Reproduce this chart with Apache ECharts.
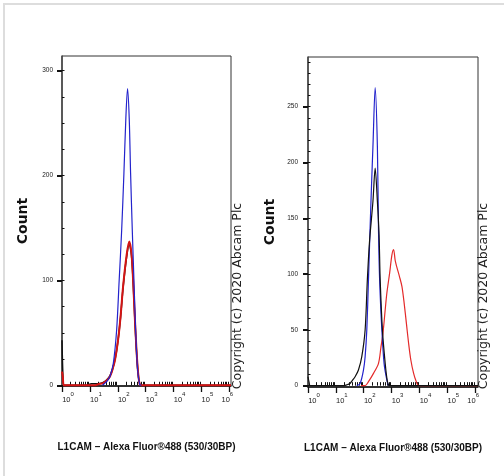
<!DOCTYPE html>
<html>
<head>
<meta charset="utf-8">
<script src="https://cdn.jsdelivr.net/npm/echarts@6/dist/echarts.min.js"></script>
<style>html,body{margin:0;padding:0;background:#fff}#c{width:504px;height:476px}</style>
</head>
<body>
<div id="c"></div>
<script>
// x values are log10 of fluorescence intensity (decades), y values are cell counts
var decadeTicks = [0, 1, 2, 3, 4, 5, 6];
var minorFactors = [2, 3, 4, 5, 6, 7, 8, 9];
var leftYMajor = [0, 100, 200, 300];
var rightYMajor = [0, 50, 100, 150, 200, 250];

var leftBlack = [[0,43],[0.03,12],[0.07,0],[0.9,0],[1.05,1.5],[1.25,1.5],[1.4,2],[1.5,3],[1.6,5],[1.72,9],[1.82,16],[1.92,27],[2.01,43],[2.10,65],[2.19,93],[2.31,121],[2.41,135],[2.49,124],[2.55,99],[2.61,64],[2.67,33],[2.73,11],[2.79,1],[2.85,0],[6.06,0]];
var leftRed = [[0,13],[0.03,8],[0.07,0],[1.2,0],[1.3,1],[1.48,2],[1.6,4.5],[1.72,8.4],[1.81,15],[1.90,24],[2.01,43],[2.10,65.5],[2.19,94],[2.31,122.7],[2.41,137],[2.49,126],[2.55,100],[2.61,65.5],[2.67,34],[2.73,11.6],[2.79,0.5],[2.85,0],[6.06,0]];
var leftBlue = [[1.45,0],[1.54,2],[1.63,4.5],[1.72,8.4],[1.84,21],[1.96,53],[2.05,100],[2.14,148],[2.22,202],[2.29,255],[2.35,283],[2.41,255],[2.46,202],[2.52,148],[2.58,100],[2.64,53],[2.71,15],[2.79,0.5],[2.85,0]];

var rightBlack = [[0,8],[0.04,3],[0.08,0],[1.3,0],[1.42,1],[1.51,2],[1.60,5],[1.69,8],[1.81,14],[1.93,26],[2.05,50],[2.13,95],[2.21,130],[2.33,165],[2.41,195],[2.49,165],[2.55,135],[2.59,95],[2.67,50],[2.77,20],[2.85,3.6],[2.92,0],[6.1,0]];
var rightBlue = [[1.75,0],[1.87,2],[1.99,14],[2.05,26],[2.11,50],[2.17,95],[2.22,135],[2.28,180],[2.33,214],[2.41,267],[2.49,214],[2.53,139],[2.57,95],[2.65,50],[2.73,20],[2.83,5],[2.89,0]];
var rightRed = [[1.9,0],[2.05,0],[2.17,3.6],[2.35,11],[2.53,20],[2.62,35],[2.69,47],[2.77,68],[2.83,83],[2.93,101],[3.01,117],[3.07,122],[3.13,112],[3.19,106],[3.28,98],[3.37,89],[3.45,74],[3.53,56],[3.61,38],[3.69,23],[3.79,11],[3.88,4],[3.97,0],[6.1,0]];

var xTitle = 'L1CAM \u2013 Alexa Fluor\u00ae488 (530/30BP)';
var yTitle = 'Count';
var copyright = 'Copyright (c) 2020 Abcam Plc';

var minorX = [];
for (var d = 0; d < 6; d++) { minorFactors.forEach(function (f) { minorX.push(d + Math.log10(f)); }); }
function minorY(max, step) { var a = []; for (var v = 0; v <= max; v += step) a.push(v); return a; }

var narrow = '"Liberation Sans Narrow", "Arial Narrow", "Liberation Sans", sans-serif';

function xAxes(gi, max) {
  return [{
    type: 'value', gridIndex: gi, min: 0, max: max,
    name: xTitle, nameLocation: 'middle', nameGap: 56,
    nameTextStyle: { fontFamily: '"Liberation Sans", Arial, sans-serif', fontWeight: 'bold', fontSize: 10, color: '#111' },
    axisLine: { show: true, onZero: false, lineStyle: { color: '#111', width: 1.5 } },
    axisTick: { show: true, customValues: decadeTicks, length: 6, lineStyle: { color: '#111', width: 1.3 } },
    axisLabel: {
      customValues: decadeTicks, margin: 5,
      formatter: function (v) { return v === 6 ? '{bl|10}{sl|6}' : '{b|10}{s|' + v + '}'; },
      rich: {
        b: { fontFamily: narrow, fontSize: 7.5, color: '#222', padding: [0, 0, 0, 12], verticalAlign: 'bottom', lineHeight: 13 },
        s: { fontFamily: narrow, fontSize: 6, color: '#222', verticalAlign: 'top', lineHeight: 13 },
        bl: { fontFamily: narrow, fontSize: 7.5, color: '#222', verticalAlign: 'bottom', lineHeight: 13 },
        sl: { fontFamily: narrow, fontSize: 6, color: '#222', verticalAlign: 'top', lineHeight: 13, padding: [0, 4, 0, 0] }
      }
    },
    splitLine: { show: false }
  }, {
    type: 'value', gridIndex: gi, min: 0, max: max,
    axisLine: { show: false },
    axisTick: { show: true, customValues: minorX, length: 3.5, lineStyle: { color: '#111', width: 1 } },
    axisLabel: { show: false },
    splitLine: { show: false }
  }];
}

function yAxes(gi, min, max, majors, step, gap, margin) {
  return [{
    type: 'value', gridIndex: gi, min: min, max: max,
    name: yTitle, nameLocation: 'middle', nameGap: gap,
    nameTextStyle: { fontFamily: 'DejaVu Sans', fontWeight: 'bold', fontSize: 14, color: '#111' },
    axisLine: { show: true, onZero: false, lineStyle: { color: '#444', width: 1.5 } },
    axisTick: { show: true, customValues: majors, length: 5, lineStyle: { color: '#111', width: 2 } },
    axisLabel: { customValues: majors, margin: margin, fontFamily: narrow, fontSize: 6.5, color: '#222' },
    splitLine: { show: false }
  }, {
    type: 'value', gridIndex: gi, min: min, max: max,
    axisLine: { show: false },
    axisTick: { show: true, customValues: minorY(max, step), length: 2.5, lineStyle: { color: '#111', width: 1 } },
    axisLabel: { show: false },
    splitLine: { show: false }
  }];
}

function line(data, color, width, xi, yi) {
  return { type: 'line', data: data, xAxisIndex: xi, yAxisIndex: yi, showSymbol: false, smooth: 0.3,
    lineStyle: { color: color, width: width }, itemStyle: { color: color }, silent: true, z: 3 };
}

var chart = echarts.init(document.getElementById('c'), null, { renderer: 'canvas' });
chart.setOption({
  animation: false,
  backgroundColor: '#fff',
  grid: [
    { left: 62, top: 56, width: 169, height: 330, show: true, borderColor: '#333', borderWidth: 1 },
    { left: 308, top: 57, width: 170, height: 330, show: true, borderColor: '#333', borderWidth: 1 }
  ],
  xAxis: xAxes(0, 6.06).concat(xAxes(1, 6.1)),
  yAxis: yAxes(0, -0.7, 314, leftYMajor, 25, 32, 9).concat(yAxes(1, -1.2, 294.5, rightYMajor, 10, 31, 10)),
  series: [
    line(leftBlack, '#111111', 1.5, 0, 0),
    line(leftRed, '#d41414', 2, 0, 0),
    line(leftBlue, '#2323cc', 1.2, 0, 0),
    line(rightRed, '#e42a2a', 1.2, 2, 2),
    line(rightBlue, '#2323cc', 1.2, 2, 2),
    line(rightBlack, '#111111', 1.2, 2, 2)
  ],
  graphic: [
    { type: 'rect', shape: { x: 4, y: 4, width: 560, height: 540 }, style: { fill: 'none', stroke: '#dddddd', lineWidth: 2 }, silent: true },
    { type: 'text', x: 237.5, y: 296, rotation: Math.PI / 2,
      style: { text: copyright, fontFamily: 'DejaVu Sans', fontSize: 12.5, fill: '#222', align: 'center', verticalAlign: 'middle' } },
    { type: 'text', x: 483.5, y: 296, rotation: Math.PI / 2,
      style: { text: copyright, fontFamily: 'DejaVu Sans', fontSize: 12.5, fill: '#222', align: 'center', verticalAlign: 'middle' } }
  ]
});
</script>
</body>
</html>
